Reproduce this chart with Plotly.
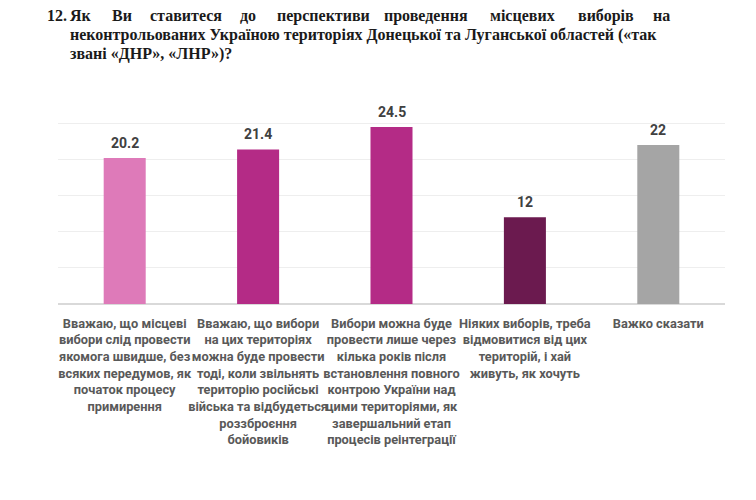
import plotly.graph_objects as go

categories = ["c1", "c2", "c3", "c4", "c5"]
tick_labels = [
    "Вважаю, що місцеві<br>вибори слід провести<br>якомога швидше, без<br>всяких передумов, як<br>початок процесу<br>примирення",
    "Вважаю, що вибори<br>на цих територіях<br>можна буде провести<br>тоді, коли звільнять<br>територію російські<br>війська та відбудеться<br>роззброєння<br>бойовиків",
    "Вибори можна буде<br>провести лише через<br>кілька років після<br>встановлення повного<br>контрою України над<br>цими територіями, як<br>завершальний етап<br>процесів реінтеграції",
    "Ніяких виборів, треба<br>відмовитися від цих<br>територій, і хай<br>живуть, як хочуть",
    "Важко сказати",
]
values = [20.2, 21.4, 24.5, 12, 22]
value_labels = ["20.2", "21.4", "24.5", "12", "22"]
colors = ["#DE7AB9", "#B42B86", "#B42B86", "#6B1A4F", "#A5A5A5"]

title_line1_words = ["12.", "Як", "Ви", "ставитеся", "до", "перспективи",
                     "проведення", "місцевих", "виборів", "на"]
title_line1_px = [45, 68, 110, 148, 238, 275, 382, 488, 576, 651]
title_line2 = "неконтрольованих Україною територіях Донецької та Луганської областей («так"
title_line3 = "звані «ДНР», «ЛНР»)?"

OFF = 8  # page body margin
W, H = 756, 500
ML, MT = 58 - OFF, 122 - OFF
MR = W - (725 - OFF)
MB = H - (304 - OFF)
pw = W - ML - MR
ph = H - MT - MB

fig = go.Figure()
fig.add_trace(go.Bar(
    x=categories, y=values, marker=dict(color=colors, line=dict(width=0)),
    width=0.315, hoverinfo="skip",
))

for c, v, t in zip(categories, values, value_labels):
    fig.add_annotation(x=c, y=v, text="<b>%s</b>" % t, showarrow=False,
                       yanchor="middle", yshift=15,
                       font=dict(family="Roboto", size=14, color="#404040"))

def px2x(px):
    return (px - OFF - ML) / pw

def py2y(py):
    return 1 + (MT - (py - OFF)) / ph

title_font = dict(family="Liberation Serif", size=16, color="#1a1a1a")
for w, p in zip(title_line1_words, title_line1_px):
    fig.add_annotation(xref="paper", yref="paper", x=px2x(p), y=py2y(16),
                       text="<b>%s</b>" % w, showarrow=False, xanchor="left",
                       yanchor="middle", font=title_font)
fig.add_annotation(xref="paper", yref="paper", x=px2x(68), y=py2y(35),
                   text="<b>%s</b>" % title_line2, showarrow=False, xanchor="left",
                   yanchor="middle", font=title_font)
fig.add_annotation(xref="paper", yref="paper", x=px2x(68), y=py2y(54),
                   text="<b>%s</b>" % title_line3, showarrow=False, xanchor="left",
                   yanchor="middle", font=title_font)

fig.update_layout(
    width=W, height=H,
    margin=dict(l=ML, r=MR, t=MT, b=MB, pad=0, autoexpand=False),
    paper_bgcolor="white", plot_bgcolor="white",
    showlegend=False,
    xaxis=dict(
        tickmode="array", tickvals=categories,
        ticktext=["<b>%s</b>" % t for t in tick_labels],
        tickfont=dict(family="Roboto", size=12.8, color="#595959"),
        showline=False, showgrid=False, ticks="", tickangle=0,
        ticklabelstandoff=10, automargin=False, fixedrange=True,
    ),
    yaxis=dict(
        range=[0, 25.2], dtick=5, showticklabels=False,
        showgrid=True, gridcolor="#EEEEEE", gridwidth=1,
        zeroline=True, zerolinecolor="#D9D9D9", zerolinewidth=1.5,
        showline=False, ticks="", automargin=False, fixedrange=True,
    ),
)

fig.write_html("out.html")
